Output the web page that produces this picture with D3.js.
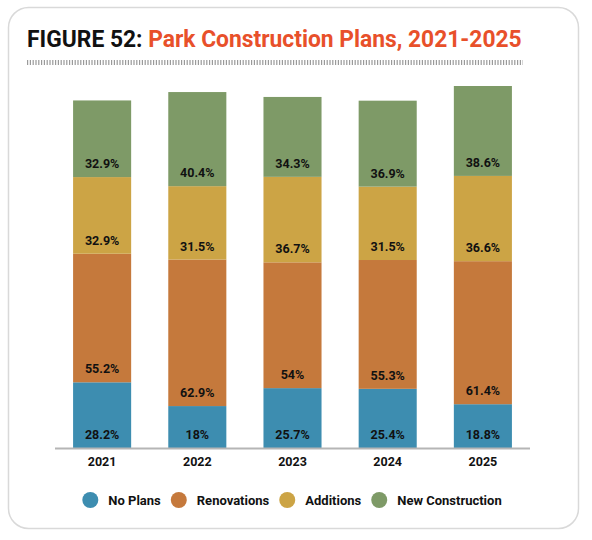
<!DOCTYPE html>
<html>
<head>
<meta charset="utf-8">
<script src="https://cdn.jsdelivr.net/npm/d3@7"></script>
<style>
  body { margin: 0; background: #fff; }
  svg { display: block; font-family: Roboto, "Liberation Sans", sans-serif; }
</style>
</head>
<body>
<svg id="chart" width="592" height="540"></svg>
<script>
  // data
  const years = ['2021', '2022', '2023', '2024', '2025']
  const series = ['No Plans', 'Renovations', 'Additions', 'New Construction']
  const noPlans = [28.2, 18, 25.7, 25.4, 18.8]
  const renovations = [55.2, 62.9, 54, 55.3, 61.4]
  const additions = [32.9, 31.5, 36.7, 31.5, 36.6]
  const newConstruction = [32.9, 40.4, 34.3, 36.9, 38.6]
  const colors = ['#3d8db0', '#c5793c', '#cca445', '#7e9a67']

  const svg = d3.select('#chart')

  // card
  svg.append('rect')
    .attr('x', 8.5).attr('y', 7.5)
    .attr('width', 570).attr('height', 521)
    .attr('rx', 20)
    .attr('fill', '#fff')
    .attr('stroke', '#d9d9d9')
    .attr('stroke-width', 1.5)

  // title, squeezed to look like the condensed face in the original
  const title = svg.append('text')
    .attr('x', 27).attr('y', 47)
    .attr('font-size', 24)
    .attr('font-weight', 700)
  title.append('tspan').attr('fill', '#111').text('FIGURE 52: ')
  title.append('tspan').attr('fill', '#e8502a').text('Park Construction Plans, 2021-2025')
  const tw = title.node().getComputedTextLength()
  const sx = 495 / tw
  title.attr('transform', `translate(27,0) scale(${sx},1) translate(-27,0)`)

  // ticked rule under the title
  svg.append('line')
    .attr('x1', 27).attr('x2', 523)
    .attr('y1', 62.5).attr('y2', 62.5)
    .attr('stroke', '#9a9a9a')
    .attr('stroke-width', 5)
    .attr('stroke-dasharray', '1.2,1.6')

  const rows = years.map((y, i) => ({
    year: y,
    'No Plans': noPlans[i],
    'Renovations': renovations[i],
    'Additions': additions[i],
    'New Construction': newConstruction[i]
  }))

  const stacked = d3.stack().keys(series)(rows)
  const maxTotal = d3.max(stacked[stacked.length - 1], d => d[1])

  const x = d3.scaleBand().domain(years).range([55, 530])
    .paddingInner(0.39).paddingOuter(0.19)
  const y = d3.scaleLinear().domain([0, maxTotal]).range([448, 86])
  const color = d3.scaleOrdinal().domain(series).range(colors)

  const groups = svg.append('g').selectAll('g')
    .data(stacked)
    .enter().append('g')
    .attr('fill', d => color(d.key))

  groups.selectAll('rect')
    .data(d => d)
    .enter().append('rect')
    .attr('x', d => x(d.data.year))
    .attr('y', d => y(d[1]))
    .attr('width', x.bandwidth())
    .attr('height', d => y(d[0]) - y(d[1]))

  // labels sit just above the bottom of each segment
  groups.selectAll('text')
    .data(d => d.map(v => ({ v: v, key: d.key })))
    .enter().append('text')
    .attr('x', d => x(d.v.data.year) + x.bandwidth() / 2)
    .attr('y', d => y(d.v[0]) - 9)
    .attr('text-anchor', 'middle')
    .attr('font-size', 12.5)
    .attr('font-weight', 700)
    .attr('fill', '#111')
    .text(d => d.v.data[d.key] + '%')

  // x axis
  const xAxis = svg.append('g')
    .attr('transform', 'translate(0,448)')
    .call(d3.axisBottom(x).tickSize(0).tickPadding(9))
  xAxis.select('.domain').attr('stroke', '#b5b5b5').attr('stroke-width', 2)
    .attr('d', 'M55,0.5H530')
  xAxis.selectAll('text')
    .attr('font-family', 'Roboto, sans-serif')
    .attr('font-size', 12.5)
    .attr('font-weight', 700)
    .attr('fill', '#111')

  // legend, centred under the plot
  const legend = svg.append('g')
  const items = legend.selectAll('g')
    .data(series)
    .enter().append('g')
  items.append('circle')
    .attr('r', 8)
    .attr('cy', 500)
    .attr('fill', d => color(d))
  items.append('text')
    .attr('y', 504.5)
    .attr('font-size', 13)
    .attr('font-weight', 700)
    .attr('fill', '#111')
    .text(d => d)

  let cursor = 0
  items.each(function() {
    const g = d3.select(this)
    const w = g.select('text').node().getComputedTextLength()
    g.select('circle').attr('cx', cursor + 8)
    g.select('text').attr('x', cursor + 26)
    cursor += 26 + w + 10
  })
  const total = cursor - 10
  legend.attr('transform', `translate(${292 - total / 2},0)`)
</script>
</body>
</html>
